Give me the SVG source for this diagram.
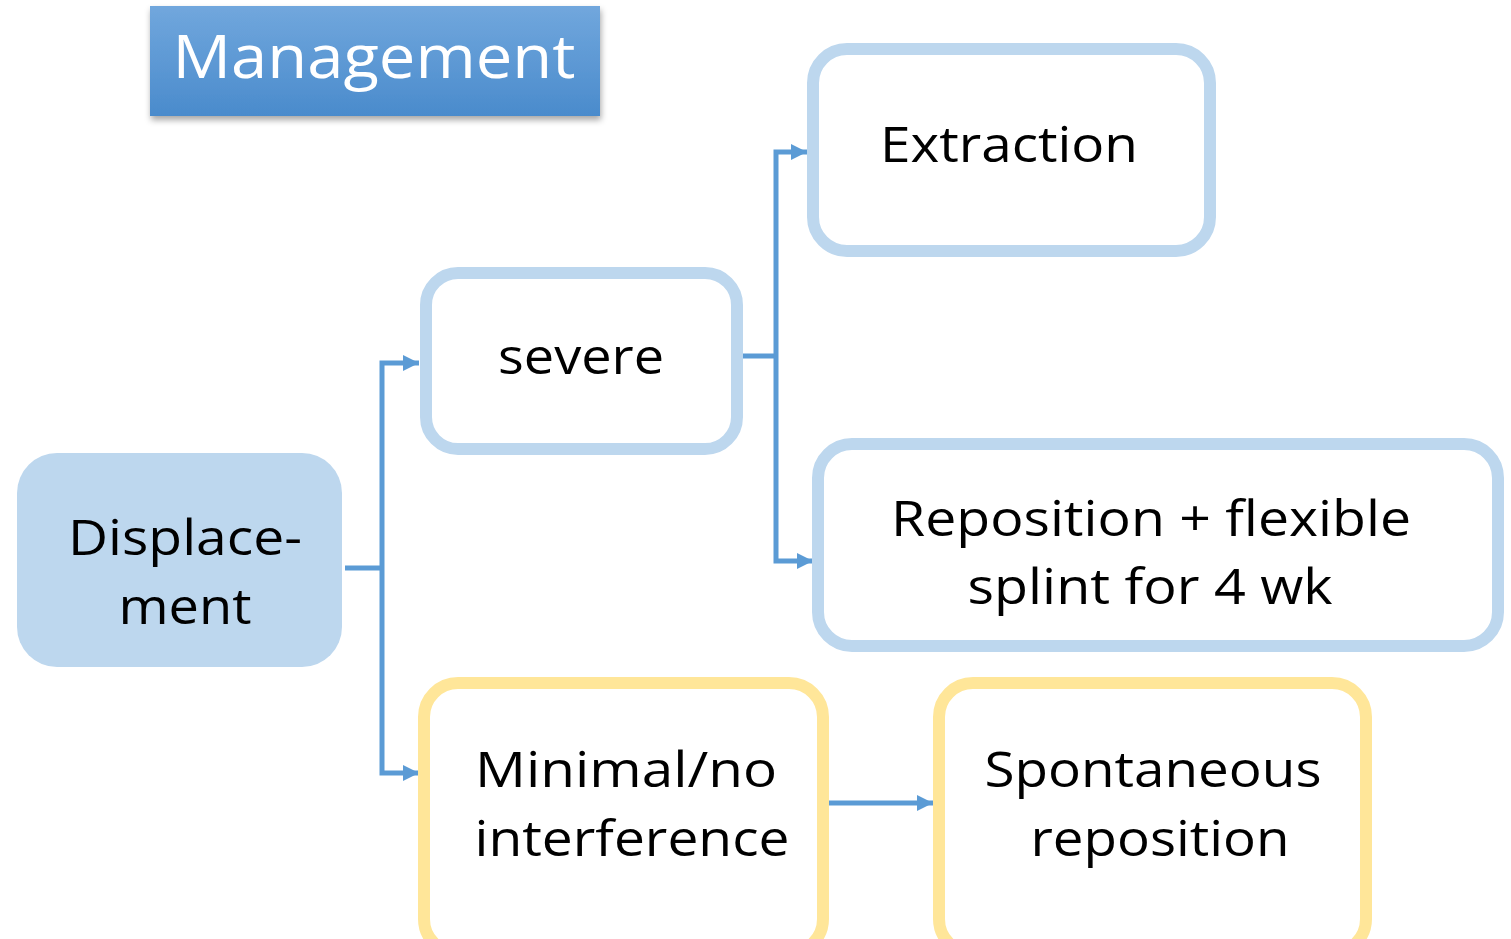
<svg xmlns="http://www.w3.org/2000/svg" width="1511" height="939" viewBox="0 0 1511 939">
<style>
.t{font-family:"Open Sans","Liberation Sans",sans-serif;font-size:50px;fill:#000;text-anchor:middle}
.blue{fill:#fff;stroke:#bdd7ee;stroke-width:12}
.yel{fill:#fff;stroke:#ffe699;stroke-width:12}
.c{fill:none;stroke:#5b9bd5;stroke-width:5}
</style>
<defs>
<linearGradient id="g" x1="0" y1="0" x2="0" y2="1">
<stop offset="0" stop-color="#71a7dd"/>
<stop offset="1" stop-color="#4a8bcc"/>
</linearGradient>
<filter id="sh" x="-10%" y="-20%" width="120%" height="150%">
<feDropShadow dx="1" dy="4" stdDeviation="3" flood-color="#000" flood-opacity="0.35"/>
</filter>
<marker id="a" markerWidth="16" markerHeight="16" refX="16" refY="8" orient="auto" markerUnits="userSpaceOnUse" viewBox="0 0 16 16">
<path d="M0,0 L16,8 L0,16 Z" fill="#5b9bd5"/>
</marker>
</defs>
<rect width="1511" height="939" fill="#fff"/>
<g id="title">
<rect x="150" y="6" width="450" height="110" fill="url(#g)" filter="url(#sh)"/>
<text x="374" y="78" class="t" style="font-size:61px;fill:#fff" textLength="403" lengthAdjust="spacingAndGlyphs">Management</text>
</g>
<g id="connectors">
<polyline class="c" points="345,568 382,568"/>
<polyline class="c" points="382,568 382,363 419,363" marker-end="url(#a)"/>
<polyline class="c" points="382,568 382,773 419,773" marker-end="url(#a)"/>
<polyline class="c" points="743,356 776,356"/>
<polyline class="c" points="776,356 776,152 807,152" marker-end="url(#a)"/>
<polyline class="c" points="776,356 776,561 813,561" marker-end="url(#a)"/>
<polyline class="c" points="829,803 933,803" marker-end="url(#a)"/>
</g>
<g id="displacement">
<rect x="17" y="453" width="325" height="214" rx="40" fill="#bdd7ee"/>
<text x="185" y="555" class="t" textLength="234" lengthAdjust="spacingAndGlyphs">Displace-</text>
<text x="185" y="624" class="t" textLength="133" lengthAdjust="spacingAndGlyphs">ment</text>
</g>
<g id="severe">
<rect x="426" y="273" width="311" height="176" rx="32" class="blue"/>
<text x="581" y="374" class="t" textLength="166" lengthAdjust="spacingAndGlyphs">severe</text>
</g>
<g id="extraction">
<rect x="813" y="49" width="397" height="202" rx="34" class="blue"/>
<text x="1009" y="162" class="t" textLength="258" lengthAdjust="spacingAndGlyphs">Extraction</text>
</g>
<g id="reposition">
<rect x="818" y="444" width="680" height="202" rx="34" class="blue"/>
<text x="1151" y="536" class="t" textLength="520" lengthAdjust="spacingAndGlyphs">Reposition + flexible</text>
<text x="1150" y="604" class="t" textLength="365" lengthAdjust="spacingAndGlyphs">splint for 4 wk</text>
</g>
<g id="minimal">
<rect x="424" y="683" width="399" height="270" rx="34" class="yel"/>
<text x="626" y="787" class="t" textLength="302" lengthAdjust="spacingAndGlyphs">Minimal/no</text>
<text x="632" y="856" class="t" textLength="315" lengthAdjust="spacingAndGlyphs">interference</text>
</g>
<g id="spontaneous">
<rect x="939" y="683" width="427" height="270" rx="34" class="yel"/>
<text x="1153" y="787" class="t" textLength="337" lengthAdjust="spacingAndGlyphs">Spontaneous</text>
<text x="1160" y="856" class="t" textLength="259" lengthAdjust="spacingAndGlyphs">reposition</text>
</g>
</svg>
